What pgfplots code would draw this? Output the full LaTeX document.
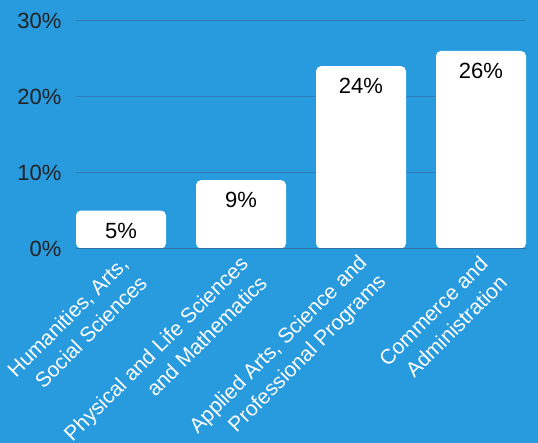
\documentclass[border=0pt]{standalone}
\usepackage{pgfplots}
\pgfplotsset{compat=1.18}
\usepackage{fontspec}
\setmainfont{Liberation Sans}
\definecolor{bg}{HTML}{289ADE}
\definecolor{gridc}{HTML}{2C7DB8}
\definecolor{basec}{HTML}{2E72A4}
\definecolor{tickc}{HTML}{222222}
\begin{document}
\begin{tikzpicture}
\useasboundingbox (0,0) rectangle (538bp,443bp);
\fill[bg] (0,0) rectangle (538bp,443bp);
\begin{axis}[
    at={(76bp,194.5bp)}, anchor=south west,
    scale only axis, width=450bp, height=228bp,
    xmin=-0.375, xmax=3.375, ymin=0, ymax=30,
    axis line style={draw=none},
    tick style={draw=none},
    ymajorgrids,
    grid style={gridc, line width=1.2bp},
    ytick={0,10,20,30},
    yticklabel={\pgfmathprintnumber{\tick}\%},
    /pgf/number format/assume math mode=true,
    yticklabel style={font=\fontsize{22bp}{26bp}\selectfont, text=tickc, xshift=-11bp},
    xtick={0,1,2,3},
    xticklabels={{Humanities, Arts,\\Social Sciences},
                 {Physical and Life Sciences\\and Mathematics},
                 {Applied Arts, Science and\\Professional Programs},
                 {Commerce and\\Administration}},
    xticklabel style={xshift=15bp, yshift=-14.5bp, rotate=45, anchor=east, align=right,
                      font=\fontsize{21bp}{27bp}\selectfont, text=white},
    ybar, bar width=0.75,
    nodes near coords={\pgfmathprintnumber{\pgfplotspointmeta}\%},
    every node near coord/.append style={anchor=north, yshift=-9bp,
        font=\fontsize{22bp}{26bp}\selectfont, text=black},
]
\addplot[fill=white, draw=none, rounded corners=5bp] coordinates {
    (0,5) (1,9) (2,24) (3,26)
};
\draw[basec, line width=1.6bp] (rel axis cs:0,0) -- (rel axis cs:1,0);
\end{axis}
\end{tikzpicture}
\end{document}
